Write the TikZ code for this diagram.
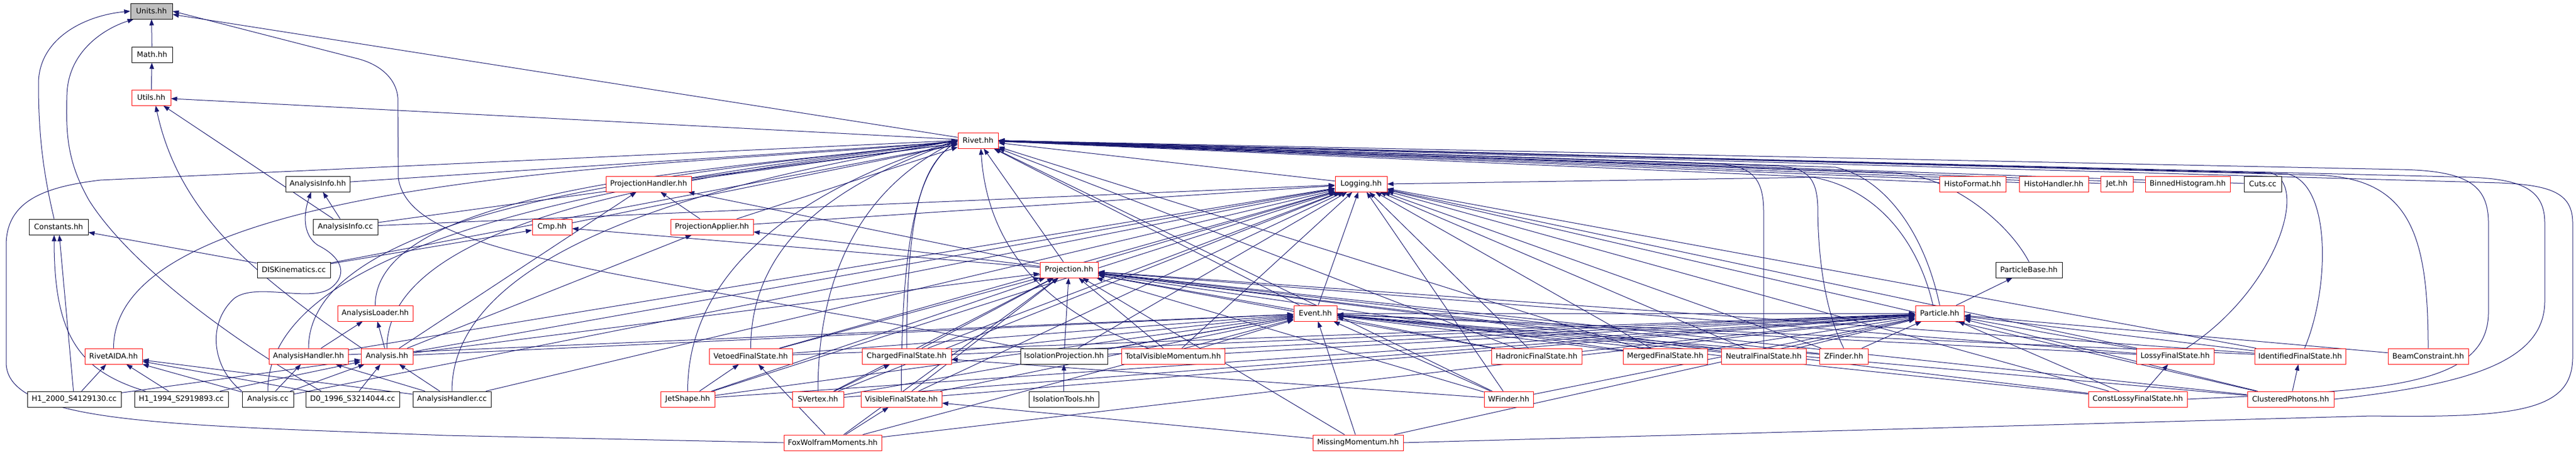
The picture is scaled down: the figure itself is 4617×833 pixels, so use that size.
\documentclass[tikz,border=0pt]{standalone}
\usepackage{fontspec}
\newfontfamily\dv{DejaVu Sans}
\usetikzlibrary{arrows.meta,calc}
\definecolor{navy}{HTML}{191970}
\definecolor{rbord}{HTML}{FF0000}
\definecolor{gfill}{HTML}{BFBFBF}
\pgfdeclarelayer{back}
\pgfdeclarelayer{bg}
\pgfsetlayers{back,bg,main}
\begin{document}
\begin{tikzpicture}[x=1pt,y=1pt,
  box/.style={draw=black,line width=1pt,minimum height=28pt,inner sep=0pt,fill=white,text=black,font=\dv\fontsize{13.3}{16}\selectfont},
  rbox/.style={box,draw=rbord},
  edg/.style={draw=navy,line width=1pt,-{Triangle[length=11pt,width=8pt]}}]
\begin{pgfonlayer}{back}
\fill[white] (0,0) rectangle (4617,-833);
\end{pgfonlayer}
\useasboundingbox (0,0) rectangle (4617,-833);
% rank 0-3
\node[box,fill=gfill,minimum width=75pt] (units) at (271.5,-20) {Units.hh};
\node[box,minimum width=73pt] (math) at (272.5,-98) {Math.hh};
\node[rbox,minimum width=70pt] (utils) at (271,-175) {Utils.hh};
\node[rbox,minimum width=72pt] (rivet) at (1753,-252) {Rivet.hh};
% rank 4
\node[box,minimum width=115pt] (ainfoh) at (569.5,-330) {AnalysisInfo.hh};
\node[rbox,minimum width=153pt] (projhandler) at (1162.5,-330) {ProjectionHandler.hh};
\node[rbox,minimum width=93pt] (logging) at (2439.5,-330) {Logging.hh};
\node[rbox,minimum width=119pt] (histoformat) at (3535.5,-330) {HistoFormat.hh};
\node[rbox,minimum width=124pt] (histohandler) at (3681,-330) {HistoHandler.hh};
\node[rbox,minimum width=58pt] (jet) at (3794,-330) {Jet.hh};
\node[rbox,minimum width=152pt] (binned) at (3921,-330) {BinnedHistogram.hh};
\node[box,minimum width=67pt] (cuts) at (4055.5,-330) {Cuts.cc};
% rank 5
\node[box,minimum width=106pt] (constants) at (105,-407) {Constants.hh};
\node[box,minimum width=116pt] (ainfocc) at (619,-407) {AnalysisInfo.cc};
\node[rbox,minimum width=71pt] (cmp) at (989.5,-407) {Cmp.hh};
\node[rbox,minimum width=148pt] (projapplier) at (1276,-407) {ProjectionApplier.hh};
% rank 6
\node[box,minimum width=131pt] (disk) at (526.5,-484) {DISKinematics.cc};
\node[rbox,minimum width=104pt] (projection) at (1916,-484) {Projection.hh};
\node[box,minimum width=119pt] (particlebase) at (3636.5,-484) {ParticleBase.hh};
% rank 7
\node[rbox,minimum width=135pt] (aloader) at (672.5,-562) {AnalysisLoader.hh};
\node[rbox,minimum width=77pt] (event) at (2357.5,-562) {Event.hh};
\node[rbox,minimum width=87pt] (particle) at (3476.5,-562) {Particle.hh};
% rank 8
\node[rbox,minimum width=103pt] (rivetaida) at (203.5,-639) {RivetAIDA.hh};
\node[rbox,minimum width=142pt] (ahandlerh) at (553,-639) {AnalysisHandler.hh};
\node[rbox,minimum width=93pt] (analysish) at (693.5,-639) {Analysis.hh};
\node[rbox,minimum width=149pt] (vetoed) at (1345.5,-639) {VetoedFinalState.hh};
\node[rbox,minimum width=160pt] (charged) at (1625,-639) {ChargedFinalState.hh};
\node[box,minimum width=156pt] (isoproj) at (1907,-639) {IsolationProjection.hh};
\node[rbox,minimum width=185pt] (tvm) at (2102.5,-639) {TotalVisibleMomentum.hh};
\node[rbox,minimum width=162pt] (hadronic) at (2754,-639) {HadronicFinalState.hh};
\node[rbox,minimum width=151pt] (merged) at (2984.5,-639) {MergedFinalState.hh};
\node[rbox,minimum width=152pt] (neutral) at (3161,-639) {NeutralFinalState.hh};
\node[rbox,minimum width=87pt] (zfinder) at (3304.5,-639) {ZFinder.hh};
\node[rbox,minimum width=139pt] (lossy) at (3898.5,-639) {LossyFinalState.hh};
\node[rbox,minimum width=163pt] (identified) at (4122.5,-639) {IdentifiedFinalState.hh};
\node[rbox,minimum width=144pt] (beam) at (4352,-639) {BeamConstraint.hh};
% rank 9
\node[box,minimum width=168pt] (h12000) at (133,-716) {H1\_2000\_S4129130.cc};
\node[box,minimum width=168pt] (h11994) at (325,-716) {H1\_1994\_S2919893.cc};
\node[box,minimum width=92pt] (analysiscc) at (480,-716) {Analysis.cc};
\node[box,minimum width=168pt] (d0) at (632,-716) {D0\_1996\_S3214044.cc};
\node[box,minimum width=140pt] (ahandlercc) at (810,-716) {AnalysisHandler.cc};
\node[rbox,minimum width=97pt] (jetshape) at (1232.5,-716) {JetShape.hh};
\node[rbox,minimum width=92pt] (svertex) at (1466,-716) {SVertex.hh};
\node[rbox,minimum width=145pt] (visible) at (1615.5,-716) {VisibleFinalState.hh};
\node[box,minimum width=125pt] (isotools) at (1906.5,-716) {IsolationTools.hh};
\node[rbox,minimum width=88pt] (wfinder) at (2704,-716) {WFinder.hh};
\node[rbox,minimum width=177pt] (constlossy) at (3831.5,-716) {ConstLossyFinalState.hh};
\node[rbox,minimum width=155pt] (clustered) at (4105.5,-716) {ClusteredPhotons.hh};
% rank 10
\node[rbox,minimum width=175pt] (foxwolfram) at (1492.5,-794) {FoxWolframMoments.hh};
\node[rbox,minimum width=162pt] (missing) at (2434,-794) {MissingMomentum.hh};

\begin{pgfonlayer}{bg}
\foreach \s/\t in {math/units, utils/math, rivet/units, rivet/utils,
  ainfocc/utils, ainfocc/ainfoh, ainfocc/logging, ainfocc/rivet,
  analysish/aloader, analysish/projapplier, analysish/projhandler, analysish/logging, analysish/projection, analysish/event,
  ainfoh/rivet, projhandler/rivet, logging/rivet,
  histoformat/rivet, histohandler/rivet, jet/rivet, binned/rivet, cuts/rivet,
  cmp/rivet, projapplier/rivet, projapplier/projhandler, projapplier/logging,
  disk/constants, disk/rivet, disk/cmp,
  projection/rivet, projection/projapplier, projection/cmp, projection/logging, projection/projhandler,
  event/rivet, event/projection, event/logging, event/particle,
  particle/particlebase,
  ahandlerh/aloader, ahandlerh/logging, ahandlerh/event,
  vetoed/projection, vetoed/logging, vetoed/event, vetoed/particle,
  charged/projection, charged/logging, charged/event, charged/particle,
  isoproj/projection, isoproj/event, isoproj/particle, isoproj/logging,
  tvm/projection, tvm/event, tvm/particle, tvm/logging,
  hadronic/rivet, hadronic/logging, hadronic/projection, hadronic/event, hadronic/particle,
  merged/rivet, merged/logging, merged/projection, merged/event, merged/particle,
  neutral/logging, neutral/projection, neutral/event, neutral/particle,
  zfinder/logging, zfinder/projection, zfinder/event, zfinder/particle,
  lossy/logging, lossy/projection, lossy/event, lossy/particle,
  identified/logging, identified/projection, identified/event, identified/particle,
  beam/particle,
  h12000/constants, h12000/rivetaida, h12000/analysish,
  h11994/rivetaida, h11994/analysish,
  analysiscc/rivetaida, analysiscc/ahandlerh, analysiscc/analysish, analysiscc/logging,
  d0/rivetaida, d0/analysish,
  ahandlercc/rivetaida, ahandlercc/ahandlerh, ahandlercc/analysish, ahandlercc/logging,
  jetshape/projection, jetshape/event, jetshape/particle, jetshape/vetoed, jetshape/logging,
  svertex/projection, svertex/event, svertex/particle, svertex/charged, svertex/logging,
  visible/projection, visible/event, visible/particle, visible/logging,
  isotools/isoproj,
  wfinder/rivet, wfinder/logging, wfinder/projection, wfinder/event, wfinder/particle, wfinder/charged,
  constlossy/lossy, constlossy/projection, constlossy/event, constlossy/particle, constlossy/logging,
  clustered/identified, clustered/projection, clustered/event, clustered/particle, clustered/logging,
  foxwolfram/projection, foxwolfram/vetoed, foxwolfram/visible, foxwolfram/event, foxwolfram/particle,
  missing/projection, missing/event, missing/particle, missing/visible}
  \draw[edg] (\s) -- (\t);
% rising curves into Rivet.hh from the lower left
\foreach \s/\h/\d in {rivetaida/330/380, ahandlerh/280/320, analysish/270/280, aloader/230/290,
  analysiscc/320/330, ahandlercc/300/250, jetshape/280/150, vetoed/240/120, svertex/300/90,
  charged/260/60, visible/320/60}
  \draw[edg] (\s.north) .. controls +(0,\h) and +(-\d,-45) .. (rivet.west);
% curved connectors
\draw[edg] ($(constants.north)+(-8,0)$) .. controls (75,-300) and (69,-230) .. (69,-150) .. controls (69,-70) and (150,-28) .. (units.west);
\draw[edg] ($(d0.north west)+(28,0)$) .. controls (400,-600) and (230,-470) .. (160,-360) .. controls (120,-290) and (118,-240) .. (120,-170) .. controls (122,-90) and (190,-50) .. ($(units.south west)+(6,0)$);
\draw[edg] ($(isoproj.north west)+(6,0)$) .. controls (1500,-560) and (1150,-505) .. (1000,-470) .. controls (820,-430) and (725,-390) .. (714,-320) -- (713,-175) .. controls (710,-140) and (680,-115) .. (640,-105) -- (units.east);
\draw[edg] ($(analysish.north west)+(2,0)$) .. controls (450,-490) and (320,-380) .. ($(utils.south)+(8,0)$);
\draw[edg] ($(h11994.north west)+(20,0)$) .. controls (140,-665) and (97,-600) .. ($(constants.south)+(-8,0)$);
\draw[edg] (analysiscc.north west) .. controls (380,-660) and (370,-580) .. (420,-535) .. controls (460,-505) and (560,-545) .. (595,-515) .. controls (625,-490) and (610,-460) .. (570,-440) .. controls (540,-420) and (545,-380) .. ($(ainfoh.south)+(-12,0)$);
\draw[edg] ($(tvm.north west)+(49,0)$) .. controls (1880,-560) and (1770,-450) .. ($(rivet.south)+(5,0)$);
\draw[edg] (foxwolfram.west) -- (800,-781) .. controls (300,-762) and (11,-760) .. (11,-650) -- (11,-440) .. controls (11,-360) and (80,-335) .. (180,-323) -- (rivet.west);
\draw[edg] (beam.north) .. controls (4352,-420) and (4320,-318) .. (4150,-314) -- (rivet.east);
\draw[edg] ($(identified.north)+(8,0)$) .. controls (4175,-520) and (4180,-330) .. (4100,-312) -- (rivet.east);
\draw[edg] ($(lossy.north)+(20,0)$) .. controls (4080,-520) and (4140,-330) .. (4070,-310) -- (rivet.east);
\draw[edg] (constlossy.east) .. controls (4250,-700) and (4460,-700) .. (4460,-560) -- (4460,-400) .. controls (4460,-330) and (4420,-306) .. (4300,-304) -- (rivet.east);
\draw[edg] (clustered.east) .. controls (4420,-690) and (4561,-650) .. (4561,-540) -- (4561,-400) .. controls (4561,-340) and (4520,-322) .. (4430,-318) -- (rivet.east);
\draw[edg] (missing.east) -- (4250,-746) .. controls (4520,-750) and (4611,-735) .. (4611,-640) -- (4611,-400) .. controls (4611,-345) and (4570,-332) .. (4480,-328) -- (rivet.east);
\draw[edg] (neutral.north) -- (3161,-380) .. controls (3161,-320) and (3140,-298) .. (3080,-294) -- (rivet.east);
\draw[edg] (zfinder.north) .. controls (3262,-540) and (3258,-420) .. (3258,-370) .. controls (3256,-320) and (3240,-302) .. (3190,-298) -- (rivet.east);
\draw[edg] (particle.north) .. controls (3450,-420) and (3380,-320) .. (3290,-300) -- (rivet.east);
\draw[edg] ($(particle.north)+(-12,0)$) .. controls (3440,-440) and (3370,-340) .. (3250,-318) -- (logging.east);
\draw[edg] (particlebase.north) .. controls (3600,-400) and (3500,-318) .. (3400,-310) -- (rivet.east);
\end{pgfonlayer}
\end{tikzpicture}
\end{document}
